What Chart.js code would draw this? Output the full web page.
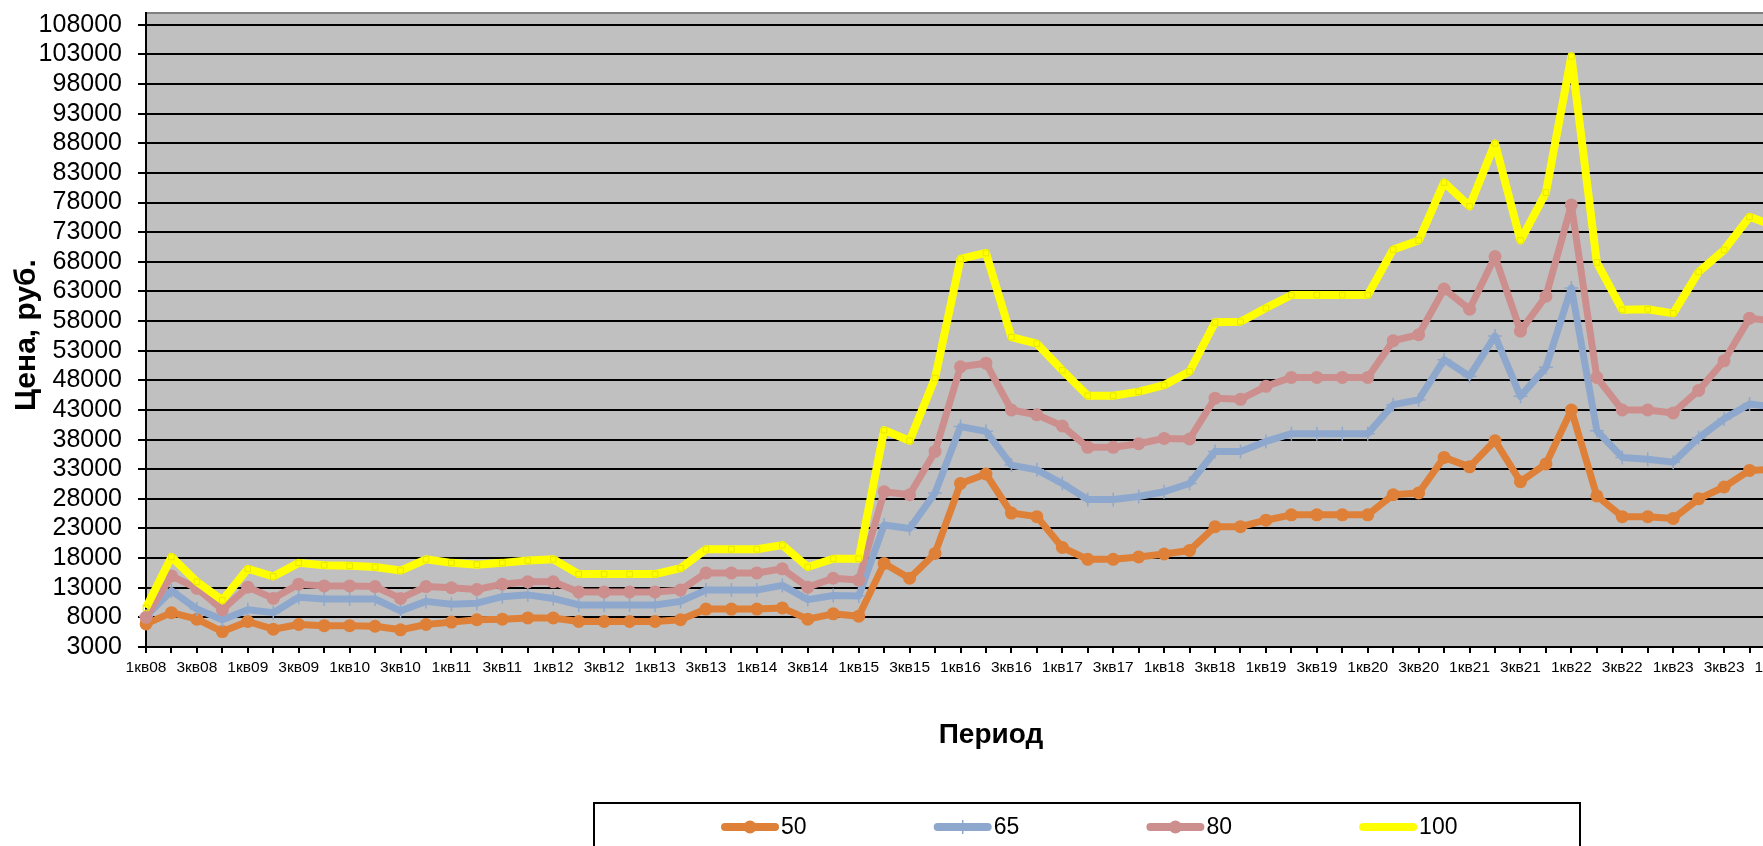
<!DOCTYPE html>
<html>
<head>
    <meta charset="utf-8">
    <title>Цена по периодам</title>
    <script src="https://cdn.jsdelivr.net/npm/chart.js@4.4.1/dist/chart.umd.min.js"></script>
    <style>
        html, body { margin: 0; padding: 0; background: #fff; overflow: hidden; }
        #wrap { position: absolute; left: 0; top: 0; width: 1800px; height: 846px; }
    </style>
</head>
<body>
    <div id="wrap"><canvas id="chart"></canvas></div>

    <script>
        // quarters (x categories), every other one is labelled on the axis
        const quarters = [
            '1кв08', '2кв08', '3кв08', '4кв08', '1кв09', '2кв09', '3кв09', '4кв09',
            '1кв10', '2кв10', '3кв10', '4кв10', '1кв11', '2кв11', '3кв11', '4кв11',
            '1кв12', '2кв12', '3кв12', '4кв12', '1кв13', '2кв13', '3кв13', '4кв13',
            '1кв14', '2кв14', '3кв14', '4кв14', '1кв15', '2кв15', '3кв15', '4кв15',
            '1кв16', '2кв16', '3кв16', '4кв16', '1кв17', '2кв17', '3кв17', '4кв17',
            '1кв18', '2кв18', '3кв18', '4кв18', '1кв19', '2кв19', '3кв19', '4кв19',
            '1кв20', '2кв20', '3кв20', '4кв20', '1кв21', '2кв21', '3кв21', '4кв21',
            '1кв22', '2кв22', '3кв22', '4кв22', '1кв23', '2кв23', '3кв23', '4кв23',
            '1кв24'
        ];

        const price50 = [
            6900, 8800, 7700, 5600, 7300, 6000, 6800, 6600, 6600, 6500, 5900, 6800,
            7200, 7600, 7700, 7900, 7900, 7300, 7300, 7300, 7300, 7600, 9400, 9400,
            9400, 9600, 7700, 8600, 8200, 17100, 14600, 18800, 30600, 32200, 25600, 25000,
            19800, 17800, 17800, 18200, 18700, 19300, 23300, 23300, 24400, 25300, 25300, 25300,
            25300, 28700, 29000, 35000, 33400, 37800, 30900, 33900, 43000, 28500, 25000, 25000,
            24700, 28000, 30000, 32800, 33000
        ];
        const price65 = [
            8200, 12500, 9400, 7600, 9300, 8800, 11400, 11100, 11100, 11100, 9100, 10700,
            10200, 10400, 11500, 11800, 11200, 10100, 10100, 10100, 10100, 10700, 12600, 12600,
            12600, 13400, 11000, 11700, 11600, 23600, 23000, 29000, 40200, 39400, 33700, 32900,
            30600, 27900, 27900, 28400, 29200, 30600, 36000, 36000, 37700, 39000, 39000, 39000,
            39000, 43900, 44700, 51500, 48700, 55500, 45300, 50200, 63600, 39500, 35000, 34700,
            34200, 38300, 41500, 44000, 43500
        ];
        const price80 = [
            8000, 15000, 12900, 9300, 13100, 11200, 13600, 13300, 13300, 13200, 11200, 13200,
            13000, 12700, 13600, 14000, 14000, 12300, 12300, 12300, 12300, 12600, 15500, 15500,
            15500, 16200, 13100, 14600, 14300, 29200, 28700, 36000, 50300, 50900, 43000, 42200,
            40300, 36700, 36700, 37300, 38200, 38100, 45000, 44800, 47000, 48500, 48500, 48500,
            48500, 54700, 55700, 63400, 60000, 68900, 56300, 62200, 77600, 48500, 43000, 43000,
            42500, 46300, 51300, 58500, 58000
        ];
        const price100 = [
            9600, 18200, 14000, 10900, 16200, 14900, 17200, 16800, 16700, 16500, 15900, 17800,
            17200, 16900, 17200, 17600, 17800, 15300, 15300, 15300, 15300, 16300, 19500, 19500,
            19500, 20200, 16500, 17900, 17900, 39600, 37800, 48400, 68500, 69500, 55300, 54200,
            49700, 45400, 45400, 46100, 47200, 49500, 57800, 57900, 60200, 62400, 62400, 62400,
            62400, 70100, 71600, 81400, 77400, 88000, 71600, 79700, 102700, 67900, 59900, 60000,
            59300, 66300, 70000, 75600, 74000
        ];

        const seriesNames = ['50', '65', '80', '100'];
        const yTickValues = [
            3000, 8000, 13000, 18000, 23000, 28000, 33000, 38000, 43000, 48000, 53000,
            58000, 63000, 68000, 73000, 78000, 83000, 88000, 93000, 98000, 103000, 108000
        ];

        const FONT = '"Liberation Sans", Arial, sans-serif';

        // grey plot area with its border
        const plotBg = {
            id: 'plotBg',
            beforeDraw(chart) {
                const { ctx, chartArea: a } = chart;
                ctx.save();
                ctx.fillStyle = '#c0c0c0';
                ctx.fillRect(a.left, a.top, a.right - a.left, a.bottom - a.top);
                ctx.strokeStyle = '#808080';
                ctx.lineWidth = 2;
                ctx.strokeRect(a.left, a.top, a.right - a.left, a.bottom - a.top);
                ctx.restore();
            }
        };

        // axis titles and the boxed legend, drawn the way the spreadsheet lays them out
        const decor = {
            id: 'decor',
            afterDraw(chart) {
                const ctx = chart.ctx;
                ctx.save();
                ctx.fillStyle = '#000';
                ctx.font = 'bold 28px ' + FONT;
                ctx.textAlign = 'center';
                ctx.textBaseline = 'middle';
                ctx.fillText('Период', 991, 735);
                ctx.font = 'bold 30px ' + FONT;
                ctx.translate(27, 335);
                ctx.rotate(-Math.PI / 2);
                ctx.fillText('Цена, руб.', 0, 0);
                ctx.restore();

                // legend box
                ctx.save();
                ctx.fillStyle = '#fff';
                ctx.fillRect(594, 803, 986, 70);
                ctx.strokeStyle = '#000';
                ctx.lineWidth = 2;
                ctx.strokeRect(594, 803, 986, 70);
                const y = 827;
                chart.data.datasets.forEach((ds, i) => {
                    const x0 = 721 + i * 212.7;
                    ctx.strokeStyle = ds.borderColor;
                    ctx.lineWidth = 8;
                    ctx.lineCap = 'round';
                    ctx.beginPath();
                    ctx.moveTo(x0 + 4, y);
                    ctx.lineTo(x0 + 54, y);
                    ctx.stroke();
                    const cx = x0 + 29;
                    if (ds.pointStyle === 'circle') {
                        ctx.fillStyle = ds.borderColor;
                        ctx.beginPath();
                        ctx.arc(cx, y, 6.5, 0, Math.PI * 2);
                        ctx.fill();
                    } else if (ds.pointStyle === 'cross') {
                        ctx.lineWidth = 1.5;
                        ctx.lineCap = 'butt';
                        ctx.beginPath();
                        ctx.moveTo(cx, y - 7);
                        ctx.lineTo(cx, y + 7);
                        ctx.stroke();
                    }
                    ctx.fillStyle = '#000';
                    ctx.font = '23px ' + FONT;
                    ctx.textAlign = 'left';
                    ctx.textBaseline = 'middle';
                    ctx.fillText(ds.label, x0 + 60, y + 1);
                });
                ctx.restore();
            }
        };

        const ctx = document.getElementById('chart').getContext('2d');
        const chart = new Chart(ctx, {
            type: 'line',
            data: {
                labels: quarters,
                datasets: [
                    {
                        label: seriesNames[0], data: price50,
                        borderColor: '#de8038', backgroundColor: '#de8038',
                        borderWidth: 7, pointStyle: 'circle', pointRadius: 6.5,
                        pointBackgroundColor: '#de8038', pointBorderWidth: 0, order: 3
                    },
                    {
                        label: seriesNames[1], data: price65,
                        borderColor: '#8ea8cd', backgroundColor: '#8ea8cd',
                        borderWidth: 7, pointStyle: 'cross', pointRadius: 7,
                        pointBorderColor: '#8ea8cd', pointBorderWidth: 1.5, order: 2
                    },
                    {
                        label: seriesNames[2], data: price80,
                        borderColor: '#cd8f8d', backgroundColor: '#cd8f8d',
                        borderWidth: 7, pointStyle: 'circle', pointRadius: 6.5,
                        pointBackgroundColor: '#cd8f8d', pointBorderWidth: 0, order: 1
                    },
                    {
                        label: seriesNames[3], data: price100,
                        borderColor: '#ffff00', backgroundColor: 'rgba(0,0,0,0)',
                        borderWidth: 8, pointStyle: 'rect', pointRadius: 4,
                        pointBorderColor: '#e6e600', pointBorderWidth: 1, order: 0
                    }
                ]
            },
            options: {
                responsive: true,
                maintainAspectRatio: false,
                animation: false,
                elements: { line: { tension: 0, borderJoinStyle: 'round' } },
                layout: { padding: { left: 0, top: 13, right: 25, bottom: 89 } },
                plugins: {
                    legend: { display: false },
                    tooltip: { enabled: false }
                },
                scales: {
                    x: {
                        offset: false,
                        grid: {
                            drawOnChartArea: false, drawTicks: true,
                            tickLength: 6, color: '#000', lineWidth: 2
                        },
                        border: { display: true, color: '#000', width: 2 },
                        ticks: {
                            autoSkip: false, maxRotation: 0, minRotation: 0, padding: 5,
                            color: '#000', font: { family: FONT, size: 15.5 },
                            callback: function (value, index) {
                                return index % 2 === 0 ? this.getLabelForValue(value) : '';
                            }
                        },
                        afterFit: (s) => { s.height = 110; s.paddingLeft = 0; s.paddingRight = 0; }
                    },
                    y: {
                        min: 3000,
                        max: 110000,
                        afterBuildTicks: (s) => { s.ticks = yTickValues.map(v => ({ value: v })); },
                        grid: { color: '#000', lineWidth: 2, tickLength: 8, drawTicks: true },
                        border: { display: true, color: '#000', width: 2 },
                        ticks: {
                            autoSkip: false, padding: 16, color: '#000',
                            font: { family: FONT, size: 25 },
                            callback: (v) => String(v)
                        },
                        afterFit: (s) => { s.width = 146; s.paddingTop = 0; s.paddingBottom = 0; }
                    }
                }
            },
            plugins: [plotBg, decor]
        });
    </script>
</body>
</html>
